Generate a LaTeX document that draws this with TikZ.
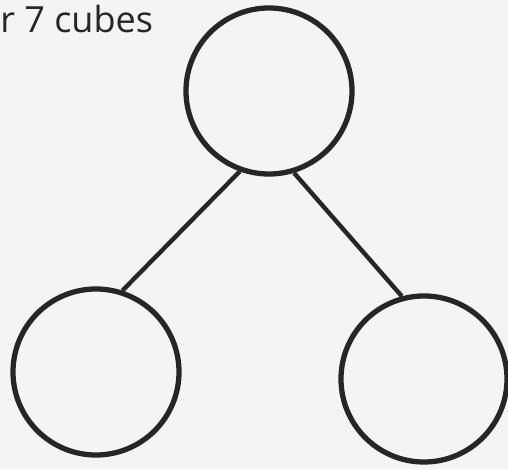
\documentclass[tikz,border=0pt]{standalone}
\usepackage{fontspec}
\setmainfont{Open Sans}
\usepackage{tikz}
\usetikzlibrary{positioning,calc}
\definecolor{ink}{HTML}{262626}
\definecolor{paper}{HTML}{F4F4F4}
\tikzset{
  partcircle/.style={
    circle, draw=ink, line width=3pt,
    minimum size=3.32cm, inner sep=0pt
  },
  partline/.style={
    draw=ink, line width=2.5pt
  },
  labelnode/.style={
    font=\fontsize{20.5}{22}\selectfont, color=ink, inner sep=0pt
  },
}
\begin{document}
\begin{tikzpicture}
  % background page
  \fill[paper] (0,0) rectangle (10.16,9.38);
  \useasboundingbox (0,0) rectangle (10.16,9.38);

  \node[labelnode, anchor=base west] (title) at (0,8.72) {r 7 cubes};

  % whole and parts
  \node[partcircle] (whole) at (5.38,7.56) {};
  \node[partcircle] (partL) at (1.92,1.94) {};
  \node[partcircle] (partR) at (8.48,1.80) {};

  \draw[partline] (whole.250) -- (partL.72);
  \draw[partline] (whole.287) -- (partR.105);
\end{tikzpicture}
\end{document}
